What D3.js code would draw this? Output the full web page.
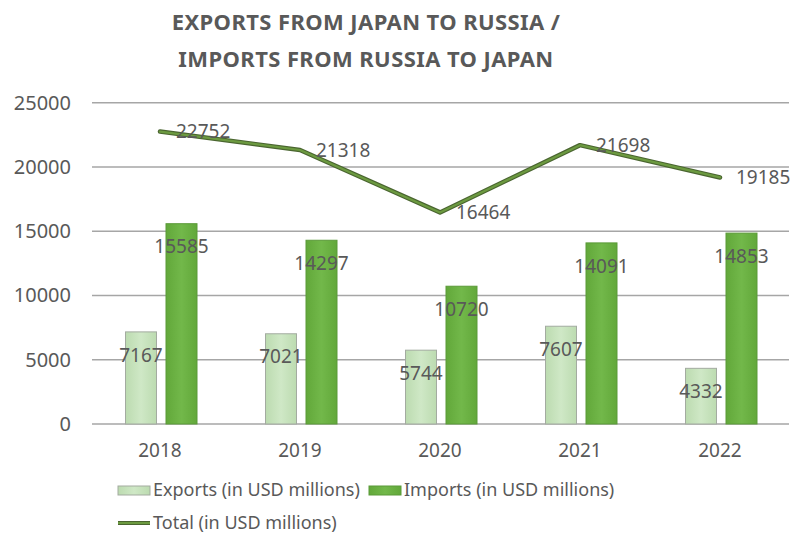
<!DOCTYPE html>
<html><head><meta charset="utf-8">
<script src="https://cdn.jsdelivr.net/npm/d3@7/dist/d3.min.js"></script>
<style>body{margin:0;background:#fff}svg{display:block}text{font-family:"Noto Sans",sans-serif}</style>
</head><body><svg id="c" width="794" height="536"></svg>
<script>
const years = ["2018","2019","2020","2021","2022"];
const exportsVals = [7167,7021,5744,7607,4332];
const importsVals = [15585,14297,10720,14091,14853];
const totalVals = [22752,21318,16464,21698,19185];
const yTicks = [0,5000,10000,15000,20000,25000];
const titleLines = ["EXPORTS FROM JAPAN TO RUSSIA /","IMPORTS FROM RUSSIA TO JAPAN"];
const seriesNames = ["Exports (in USD millions)","Imports (in USD millions)","Total (in USD millions)"];

const svg = d3.select("#c");
const x = d3.scaleBand().domain(years).range([90,790]);
const y = d3.scaleLinear().domain([0,25000]).range([424,102.7]);
const txt="#595959";

// title
svg.selectAll("text.title").data(titleLines).join("text")
  .attr("x",366).attr("y",(d,i)=>30+i*37).attr("text-anchor","middle")
  .attr("font-size",22).attr("font-weight","bold").attr("letter-spacing",0.4)
  .attr("fill",txt).text(d=>d);

// gridlines
svg.append("g").selectAll("line").data(yTicks).join("line")
  .attr("x1",92).attr("x2",789).attr("y1",d=>y(d)).attr("y2",d=>y(d))
  .attr("stroke","#a6a6a6").attr("stroke-width",1.5);
// y labels
svg.append("g").selectAll("text").data(yTicks).join("text")
  .attr("x",71).attr("y",d=>y(d)).attr("dy","0.35em").attr("text-anchor","end")
  .attr("font-size",20).attr("fill",txt).text(d=>d);
// x labels
svg.append("g").selectAll("text").data(years).join("text")
  .attr("x",d=>x(d)+x.bandwidth()/2).attr("y",450).attr("dy","0.35em").attr("text-anchor","middle")
  .attr("font-size",19).attr("fill",txt).text(d=>d);

const bw=31;
const exCx = d=>x(d)+x.bandwidth()/2-19;
const imCx = d=>x(d)+x.bandwidth()/2+21.5;
const defs=svg.append("defs");
const g1=defs.append("linearGradient").attr("id","gex").attr("x1",0).attr("x2",1);
g1.append("stop").attr("offset",0).attr("stop-color","#bcdbb0");
g1.append("stop").attr("offset",0.5).attr("stop-color","#cfe8c6");
g1.append("stop").attr("offset",1).attr("stop-color","#bcdbb0");
const g2=defs.append("linearGradient").attr("id","gim").attr("x1",0).attr("x2",1);
g2.append("stop").attr("offset",0).attr("stop-color","#62a83a");
g2.append("stop").attr("offset",0.5).attr("stop-color","#72b84a");
g2.append("stop").attr("offset",1).attr("stop-color","#62a83a");

svg.append("g").selectAll("rect").data(years).join("rect")
  .attr("x",d=>exCx(d)-bw/2).attr("width",bw)
  .attr("y",(d,i)=>y(exportsVals[i])).attr("height",(d,i)=>y(0)-y(exportsVals[i]))
  .attr("fill","url(#gex)").attr("stroke","#a3aba0").attr("stroke-width",1);
svg.append("g").selectAll("rect").data(years).join("rect")
  .attr("x",d=>imCx(d)-bw/2).attr("width",bw)
  .attr("y",(d,i)=>y(importsVals[i])).attr("height",(d,i)=>y(0)-y(importsVals[i]))
  .attr("fill","url(#gim)").attr("stroke","#5b9a38").attr("stroke-width",1);

// bar labels
svg.append("g").selectAll("text").data(years).join("text")
  .attr("x",d=>exCx(d)).attr("y",(d,i)=>y(exportsVals[i])+23).attr("dy","0.35em")
  .attr("text-anchor","middle").attr("font-size",19).attr("fill",txt)
  .text((d,i)=>exportsVals[i]);
svg.append("g").selectAll("text").data(years).join("text")
  .attr("x",d=>imCx(d)).attr("y",(d,i)=>y(importsVals[i])+23).attr("dy","0.35em")
  .attr("text-anchor","middle").attr("font-size",19).attr("fill",txt)
  .text((d,i)=>importsVals[i]);

// total line
const lineGen=d3.line().x((d,i)=>x(years[i])+x.bandwidth()/2).y(d=>y(d));
svg.append("path").datum(totalVals).attr("d",lineGen).attr("fill","none")
  .attr("stroke","#4a6530").attr("stroke-width",4.5).attr("stroke-linecap","round").attr("stroke-linejoin","round");
svg.append("path").datum(totalVals).attr("d",lineGen).attr("fill","none")
  .attr("stroke","#6c9a40").attr("stroke-width",2.2).attr("stroke-linecap","round").attr("stroke-linejoin","round");
svg.append("g").selectAll("text").data(totalVals).join("text")
  .attr("x",(d,i)=>x(years[i])+x.bandwidth()/2+16).attr("y",d=>y(d)).attr("dy","0.35em")
  .attr("font-size",19).attr("fill",txt).text(d=>d);

// legend
const lg=svg.append("g");
lg.append("rect").attr("x",118).attr("y",486).attr("width",32).attr("height",9)
  .attr("fill","url(#gex)").attr("stroke","#a3aba0");
lg.append("text").attr("x",153).attr("y",490).attr("dy","0.35em").attr("font-size",18).attr("fill",txt).text(seriesNames[0]);
lg.append("rect").attr("x",369).attr("y",486).attr("width",32).attr("height",9)
  .attr("fill","url(#gim)").attr("stroke","#5b9a38");
lg.append("text").attr("x",404).attr("y",490).attr("dy","0.35em").attr("font-size",18).attr("fill",txt).text(seriesNames[1]);
lg.append("line").attr("x1",118).attr("x2",150).attr("y1",523).attr("y2",523)
  .attr("stroke","#4a6530").attr("stroke-width",4);
lg.append("line").attr("x1",118).attr("x2",150).attr("y1",523).attr("y2",523)
  .attr("stroke","#6c9a40").attr("stroke-width",2);
lg.append("text").attr("x",153).attr("y",523).attr("dy","0.35em").attr("font-size",18).attr("fill",txt).text(seriesNames[2]);
</script></body></html>
